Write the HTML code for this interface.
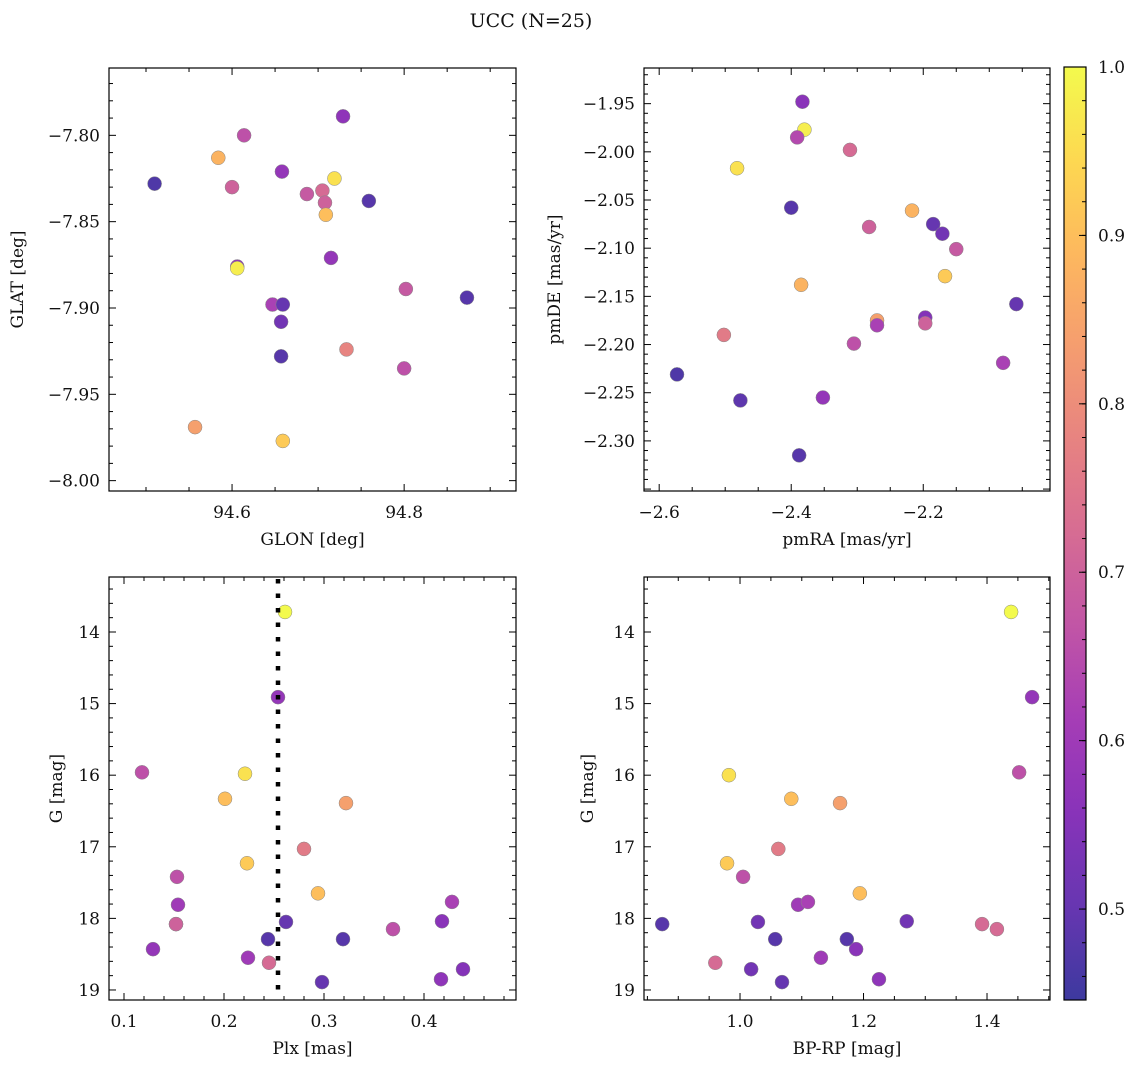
<!DOCTYPE html>
<html><head><meta charset="utf-8"><style>
body{margin:0;background:#fff;}
svg text{font-family:"DejaVu Serif","Liberation Serif",serif;fill:#111;}
</style></head><body>
<svg id="fig" width="1136" height="1067" xmlns="http://www.w3.org/2000/svg"></svg>
<script>
// ---- data ----
const probs1 = [0.47,0.66,0.88,0.70,0.58,0.57,0.96,0.68,0.72,0.70,0.90,0.48,0.58,0.98,0.58,0.62,0.50,0.52,0.48,0.48,0.68,0.78,0.66,0.84,0.92];
const glon = [94.510,94.614,94.584,94.600,94.658,94.729,94.719,94.687,94.705,94.708,94.709,94.759,94.606,94.606,94.715,94.647,94.659,94.657,94.657,94.873,94.802,94.733,94.800,94.557,94.659];
const glat = [-7.828,-7.800,-7.813,-7.830,-7.821,-7.789,-7.825,-7.834,-7.832,-7.839,-7.846,-7.838,-7.876,-7.877,-7.871,-7.898,-7.898,-7.908,-7.928,-7.894,-7.889,-7.924,-7.935,-7.969,-7.977];
const probs2 = [0.56,0.98,0.64,0.72,0.96,0.48,0.88,0.70,0.50,0.52,0.68,0.92,0.88,0.84,0.62,0.55,0.70,0.50,0.76,0.66,0.62,0.47,0.49,0.58,0.48];
const pmra = [-2.383,-2.380,-2.391,-2.311,-2.482,-2.400,-2.217,-2.282,-2.185,-2.171,-2.150,-2.167,-2.385,-2.270,-2.270,-2.197,-2.197,-2.059,-2.502,-2.305,-2.079,-2.573,-2.477,-2.352,-2.388];
const pmde = [-1.948,-1.977,-1.985,-1.998,-2.017,-2.058,-2.061,-2.078,-2.075,-2.085,-2.101,-2.129,-2.138,-2.175,-2.180,-2.172,-2.178,-2.158,-2.190,-2.199,-2.219,-2.231,-2.258,-2.255,-2.315];
const probs3 = [1.0,0.58,0.66,0.96,0.90,0.84,0.76,0.92,0.66,0.90,0.60,0.62,0.58,0.70,0.50,0.56,0.66,0.48,0.48,0.58,0.60,0.72,0.50,0.57,0.55];
const plx = [0.261,0.254,0.118,0.221,0.201,0.322,0.280,0.223,0.153,0.294,0.154,0.428,0.152,0.152,0.262,0.418,0.369,0.244,0.319,0.129,0.224,0.245,0.298,0.417,0.439];
const gmag3 = [13.72,14.91,15.96,15.98,16.33,16.39,17.03,17.23,17.42,17.65,17.81,17.77,18.08,18.08,18.05,18.04,18.15,18.29,18.29,18.43,18.55,18.62,18.89,18.85,18.71];
const probs4 = [1.0,0.58,0.66,0.96,0.90,0.84,0.76,0.92,0.66,0.90,0.60,0.62,0.48,0.52,0.52,0.72,0.72,0.48,0.48,0.56,0.60,0.72,0.52,0.50,0.57];
const bprp = [1.439,1.473,1.452,0.982,1.083,1.162,1.062,0.979,1.005,1.194,1.094,1.110,0.874,1.029,1.270,1.392,1.416,1.057,1.173,1.188,1.131,0.960,1.018,1.068,1.225];
const gmag4 = [13.72,14.91,15.96,16.00,16.33,16.39,17.03,17.23,17.42,17.65,17.81,17.77,18.08,18.05,18.04,18.08,18.15,18.29,18.29,18.43,18.55,18.62,18.71,18.89,18.85];
const plxLine = 0.254;
const cbTicks = [0.5,0.6,0.7,0.8,0.9,1.0];
const cbMin = 0.446, cbMax = 1.0;

const NS="http://www.w3.org/2000/svg";
const svg=document.getElementById('fig');
function mk(tag,attrs,parent){const e=document.createElementNS(NS,tag);for(const k in attrs)e.setAttribute(k,attrs[k]);(parent||svg).appendChild(e);return e;}
const stops=[[13,8,135],[65,4,157],[106,0,168],[143,13,164],[177,42,144],[204,71,120],[225,100,98],[242,132,75],[252,166,54],[252,206,37],[240,249,33]];
function plasma(t){t=Math.max(0,Math.min(1,t));const f=t*10,i=Math.min(9,Math.floor(f)),r=f-i;const a=stops[i],b=stops[i+1];
 return 'rgb('+a.map((v,k)=>Math.round((v+(b[k]-v)*r)*0.8+255*0.2)).join(',')+')';}
function cmap(p){return plasma((p-cbMin)/(cbMax-cbMin));}
function fmt(v,d){let s=v.toFixed(d);return s.replace('-','\u2212');}

function panel(name,box,xr,yr,xmaj,xmin,ymaj,ymin,xd,yd,xlabel,ylabel,xs,ys,ps,ylabx){
 const [L,T,R,B]=box;
 const X=v=>L+(v-xr[0])/(xr[1]-xr[0])*(R-L);
 const Y=v=>T+(v-yr[0])/(yr[1]-yr[0])*(B-T);
 const g=mk('g',{});
 
 
 const lo=Math.min(xr[0],xr[1]),hi=Math.max(xr[0],xr[1]);
 for(let k=Math.ceil(lo/xmin-1e-6);k*xmin<=hi+1e-9;k++){
  const v=k*xmin;
  const isMaj=Math.abs(v/xmaj-Math.round(v/xmaj))<1e-4;const len=isMaj?7:4;const x=X(v);
  if(x<L+1||x>R-1)continue;
  mk('line',{x1:x,x2:x,y1:B,y2:B-len,stroke:'#000','stroke-width':1},g);
  mk('line',{x1:x,x2:x,y1:T,y2:T+len,stroke:'#000','stroke-width':1},g);
  if(isMaj&&x>L+5&&x<R-5){const t=mk('text',{x:x,y:B+27,'text-anchor':'middle','font-size':17},g);t.textContent=fmt(v,xd);}
 }
 const ylo=Math.min(yr[0],yr[1]),yhi=Math.max(yr[0],yr[1]);
 for(let k=Math.ceil(ylo/ymin-1e-6);k*ymin<=yhi+1e-9;k++){
  const v=k*ymin;
  const isMaj=Math.abs(v/ymaj-Math.round(v/ymaj))<1e-4;const len=isMaj?7:4;const y=Y(v);
  if(y<T+1||y>B-1)continue;
  mk('line',{x1:L,x2:L+len,y1:y,y2:y,stroke:'#000','stroke-width':1},g);
  mk('line',{x1:R,x2:R-len,y1:y,y2:y,stroke:'#000','stroke-width':1},g);
  if(isMaj&&y>T+5&&y<B-5){const t=mk('text',{x:L-9,y:y+6,'text-anchor':'end','font-size':17},g);t.textContent=fmt(v,yd);}
 }
 for(let i=0;i<xs.length;i++){
  const c=mk('circle',{cx:X(xs[i]),cy:Y(ys[i]),r:7,fill:cmap(ps[i]),stroke:'#888','stroke-width':0.5},g);
  
  
 }
 mk('rect',{x:L,y:T,width:R-L,height:B-T,fill:'none',stroke:'#000','stroke-width':1.2},g);
 const xl=mk('text',{x:(L+R)/2,y:B+54,'text-anchor':'middle','font-size':17},g);xl.textContent=xlabel;
 
 const yc=(T+B)/2;
 const yl=mk('text',{x:ylabx,y:yc,'text-anchor':'middle','font-size':17,transform:'rotate(-90 '+ylabx+' '+yc+')'},g);yl.textContent=ylabel;
 
 return {X,Y,g};
}
const t=mk('text',{x:531,y:27,'text-anchor':'middle','font-size':19});t.textContent='UCC (N=25)';


panel('glon-glat-panel',[109,68,516,491],[94.457,94.930],[-7.761,-8.006],0.2,0.05,0.05,0.01,1,2,'GLON [deg]','GLAT [deg]',glon,glat,probs1,23);
panel('pm-panel',[644,68,1050,491],[-2.623,-2.008],[-1.913,-2.352],0.2,0.05,0.05,0.01,1,2,'pmRA [mas/yr]','pmDE [mas/yr]',pmra,pmde,probs2,560);
const p3=panel('plx-g-panel',[109,577,516,1000],[0.085,0.492],[13.232,19.140],0.1,0.02,1,0.2,1,0,'Plx [mas]','G [mag]',plx,gmag3,probs3,62);
const lx=p3.X(plxLine);
const dl=mk('line',{x1:lx,x2:lx,y1:579,y2:999,stroke:'#000','stroke-width':4.5,'stroke-dasharray':'4.5 10'});

panel('cmd-panel',[644,577,1050,1000],[0.8445,1.502],[13.232,19.140],0.2,0.05,1,0.2,1,0,'BP-RP [mag]','G [mag]',bprp,gmag4,probs4,593);

// colorbar
const cb=mk('g',{});


const defs=mk('defs',{},cb);const lg=mk('linearGradient',{id:'pl',x1:0,y1:1,x2:0,y2:0},defs);
for(let i=0;i<=20;i++)mk('stop',{offset:(i/20),'stop-color':plasma(i/20)},lg);
const CT=67,CB=1000,CL=1064,CR=1086;
mk('rect',{x:CL,y:CT,width:CR-CL,height:CB-CT,fill:'url(#pl)',stroke:'#000','stroke-width':1.2},cb);
const CY=v=>CB-(v-cbMin)/(cbMax-cbMin)*(CB-CT);
for(let k=23;k<=50;k++){const y=CY(k*0.02);mk('line',{x1:CR,x2:CR-4,y1:y,y2:y,stroke:'#000'},cb);}
cbTicks.forEach(v=>{const y=CY(v);mk('line',{x1:CR,x2:CR-7,y1:y,y2:y,stroke:'#000'},cb);
 const tt=mk('text',{x:CR+12,y:y+6,'font-size':17},cb);tt.textContent=v.toFixed(1);});
</script>
</body></html>
